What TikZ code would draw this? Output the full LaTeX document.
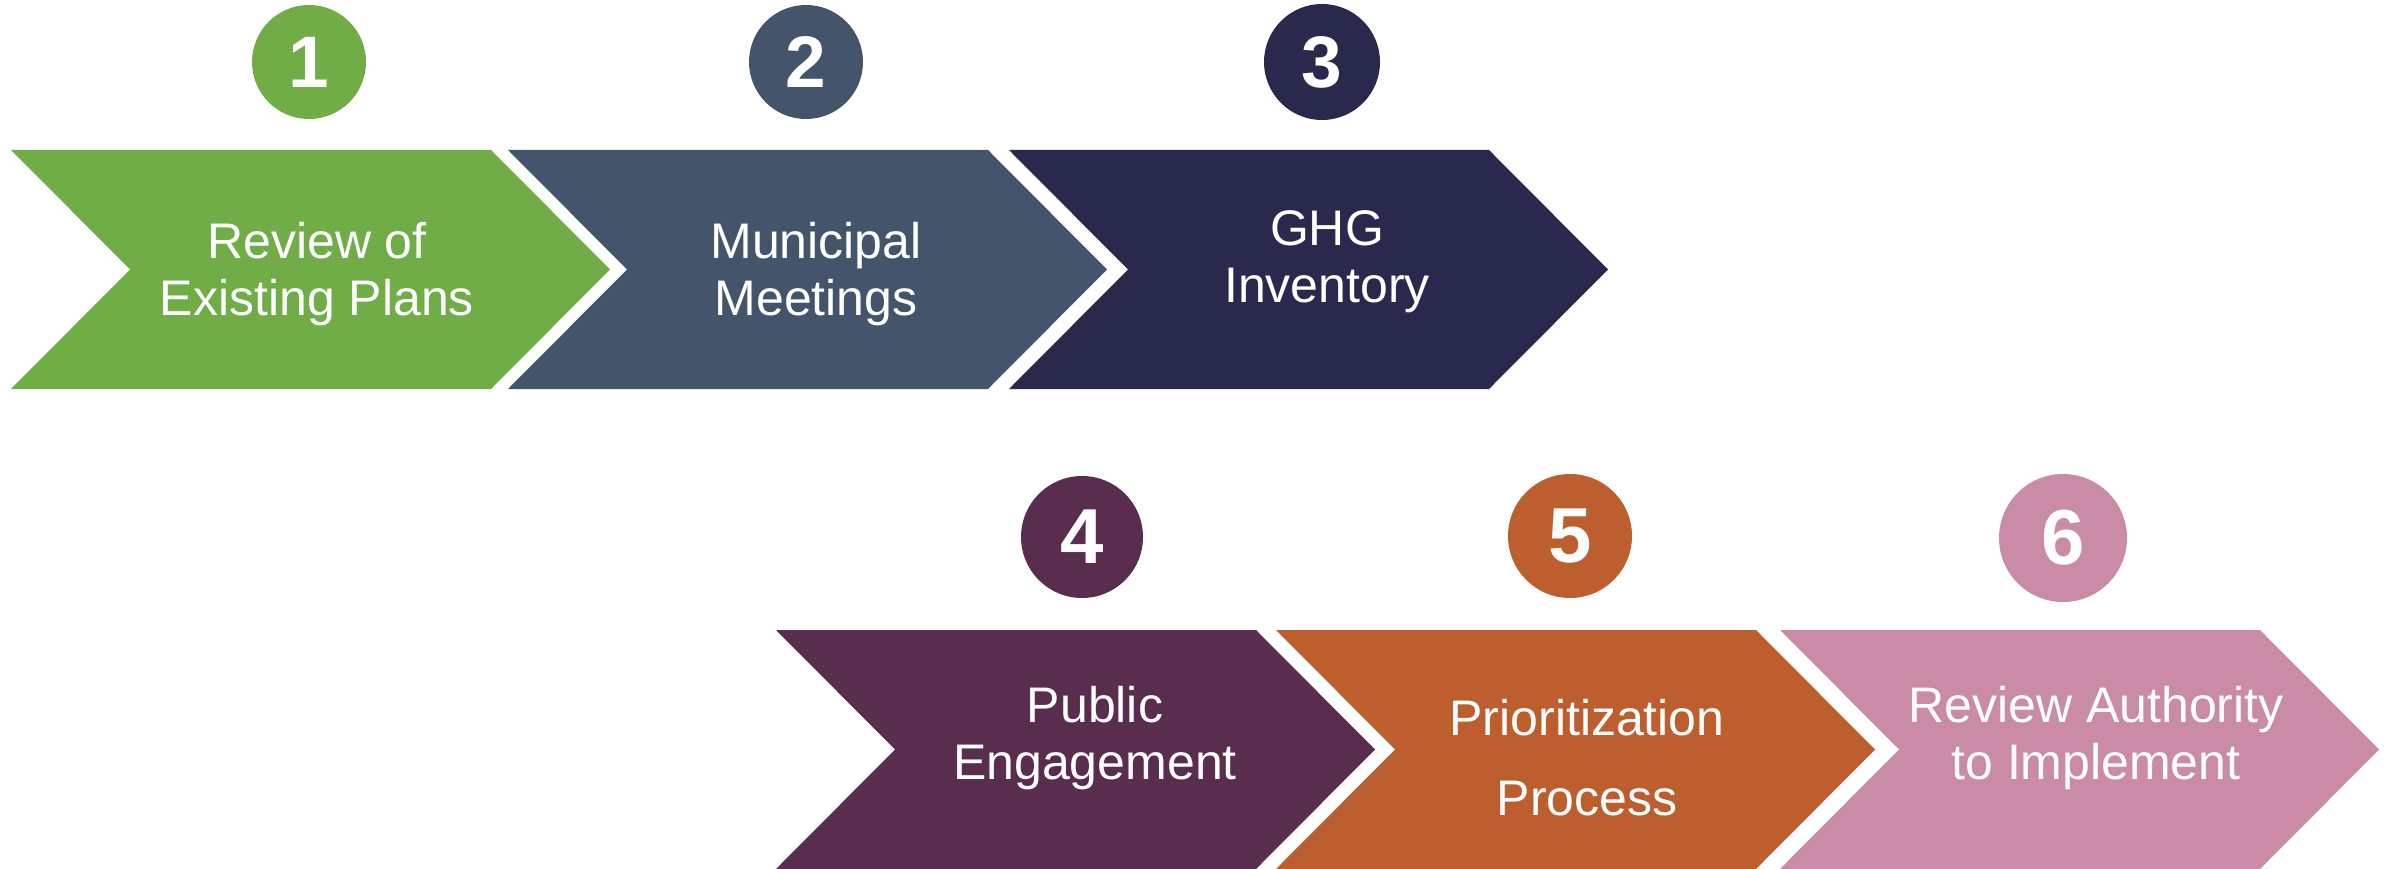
\documentclass[tikz,border=0pt]{standalone}
\usepackage{fontspec}
\setmainfont{Liberation Sans}
\definecolor{stepgreen}{HTML}{70AD47}
\definecolor{stepslate}{HTML}{44546A}
\definecolor{stepnavy}{HTML}{29284D}
\definecolor{steppurple}{HTML}{582D4E}
\definecolor{steporange}{HTML}{BC5E2E}
\definecolor{steppink}{HTML}{C98BA6}
\tikzset{
    steplabel/.style={text=white, align=center, inner sep=0pt,
        font=\fontsize{50}{57}\selectfont},
    stepnum/.style={circle, inner sep=0pt, text=white},
}
\begin{document}
\begin{tikzpicture}[x=1pt,y=-1pt]
        \useasboundingbox (0,0) rectangle (2390,869);
        \def\w{480}\def\d{119}\def\h{239}
        %% chevrons
        \foreach \i/\l/\t/\col/\tx/\ty/\txt in {
                1/11/150/stepgreen/317/274/{Review of\\Existing Plans},
                2/508/150/stepslate/816/274/{Municipal\\Meetings},
                3/1009/150/stepnavy/1327/262/{GHG\\Inventory},
                4/776/630/steppurple/1095/738/{Public\\Engagement},
                5/1276/630/steporange/1587/758/{Prioritization\\[23pt]Process},
                6/1780/630/steppink/2096/738/{Review Authority\\to Implement}} {
            \fill[\col] (\l,\t) -- ++(\w,0) -- ++(\d,{\h/2}) -- ++(-\d,{\h/2})
                -- ++(-\w,0) -- ++(\d,{-\h/2}) -- cycle;
            \node[steplabel] (s\i) at (\tx,\ty) {\txt};
        }
        %% numbers
        \foreach \i/\cx/\cy/\r/\fs/\col in {
                1/309/62/57/73/stepgreen, 2/806/62/57/73/stepslate,
                3/1322/62/58/73/stepnavy, 4/1082/537/61/78/steppurple,
                5/1570/536/62/78/steporange, 6/2063/538/64/78/steppink}
            \node[stepnum, fill=\col, minimum size={2*\r pt},
                font=\fontsize{\fs}{\fs}\selectfont\bfseries] (c\i) at (\cx,\cy) {\i};
\end{tikzpicture}
\end{document}
